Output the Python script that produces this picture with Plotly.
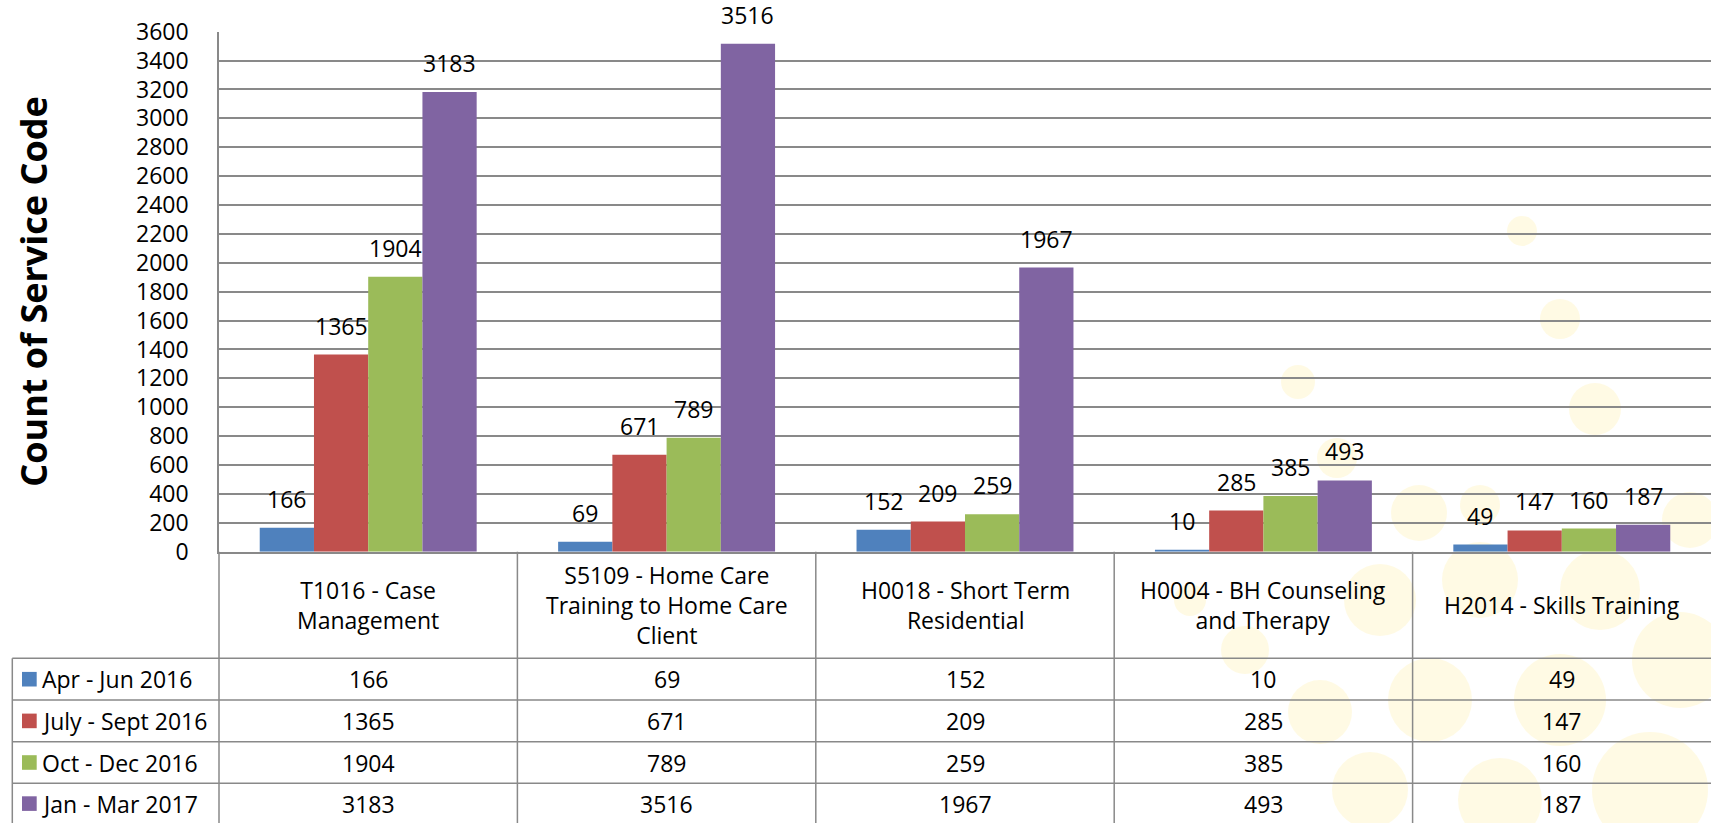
import plotly.graph_objects as go

# ---------------- data ----------------
categories = [
    "T1016 - Case Management",
    "S5109 - Home Care Training to Home Care Client",
    "H0018 - Short Term Residential",
    "H0004 - BH Counseling and Therapy",
    "H2014 - Skills Training",
]
category_labels = [
    "T1016 - Case<br>Management",
    "S5109 - Home Care<br>Training to Home Care<br>Client",
    "H0018 - Short Term<br>Residential",
    "H0004 - BH Counseling<br>and Therapy",
    "H2014 - Skills Training",
]
series_names = ["Apr - Jun 2016", "July - Sept 2016", "Oct - Dec 2016", "Jan - Mar 2017"]
apr_jun_2016 = [166, 69, 152, 10, 49]
jul_sep_2016 = [1365, 671, 209, 285, 147]
oct_dec_2016 = [1904, 789, 259, 385, 160]
jan_mar_2017 = [3183, 3516, 1967, 493, 187]
series_values = [apr_jun_2016, jul_sep_2016, oct_dec_2016, jan_mar_2017]
y_ticks = list(range(0, 3601, 200))
y_title = "Count of Service Code"

# ---------------- style / layout ----------------
colors = ["#4F81BD", "#C0504D", "#9BBB59", "#8064A2"]
W, H = 1711, 823
FONT = "Open Sans"
FS = 23
GRID = "#898989"
PLOT_L, PLOT_T, PLOT_B = 219, 31.7, 551.7
ROW_LINES = [658.3, 700.0, 741.7, 783.3]
ROW_CENTERS = [679.2, 720.9, 762.5, 803.6]
TABLE_L = 12.3
BARGAP = 0.273


def px_x(p):
    return p / W


def px_y(p):
    return 1 - p / H


fig = go.Figure()
for name, vals, col in zip(series_names, series_values, colors):
    fig.add_trace(go.Bar(x=categories, y=vals, name=name, marker=dict(color=col, line=dict(width=0))))

shapes = []
# decorative pale circles (background artwork)
circles = [
    (1522, 231, 15), (1560, 319, 20), (1298, 382, 17), (1595, 409, 26),
    (1337, 458, 20), (1419, 513, 28), (1480, 505, 20), (1190, 600, 16),
    (1245, 650, 24), (1380, 600, 36), (1480, 580, 38), (1600, 590, 40),
    (1320, 712, 32), (1430, 700, 42), (1560, 700, 46), (1680, 660, 48),
    (1370, 790, 38), (1500, 800, 42), (1650, 790, 58), (1690, 520, 28),
]
for cx, cy, r in circles:
    shapes.append(dict(type="circle", xref="paper", yref="paper", layer="below",
                       x0=px_x(cx - r), x1=px_x(cx + r), y0=px_y(cy + r), y1=px_y(cy - r),
                       fillcolor="rgba(255,221,90,0.16)", line=dict(width=0)))

line_style = dict(color=GRID, width=1.5)
# y-axis line continued through the header row / table
shapes.append(dict(type="line", xref="paper", yref="paper", x0=px_x(PLOT_L), x1=px_x(PLOT_L),
                   y0=0, y1=px_y(PLOT_B), line=line_style))
# category boundaries in the data table
for k in range(1, len(categories)):
    shapes.append(dict(type="line", xref="x", yref="paper", x0=k - 0.5, x1=k - 0.5,
                       y0=0, y1=px_y(PLOT_B), line=line_style))
# table row lines
for yy in ROW_LINES:
    shapes.append(dict(type="line", xref="paper", yref="paper", x0=px_x(TABLE_L), x1=1,
                       y0=px_y(yy), y1=px_y(yy), line=line_style))
shapes.append(dict(type="line", xref="paper", yref="paper", x0=px_x(TABLE_L), x1=px_x(TABLE_L),
                   y0=0, y1=px_y(ROW_LINES[0]), line=line_style))
# legend keys
for yc, col in zip(ROW_CENTERS, colors):
    shapes.append(dict(type="rect", xref="paper", yref="paper", x0=px_x(22), x1=px_x(36.7),
                       y0=px_y(yc + 7.3), y1=px_y(yc - 7.3), fillcolor=col, line=dict(width=0)))

annotations = []
# axis title
annotations.append(dict(text="<b>" + y_title + "</b>", xref="paper", yref="paper",
                        x=px_x(34), y=px_y((PLOT_T + PLOT_B) / 2), textangle=-90,
                        showarrow=False, xanchor="center", yanchor="middle",
                        font=dict(family=FONT, size=36, color="#000")))
# header labels
for cat, lab in zip(categories, category_labels):
    annotations.append(dict(text=lab, xref="x", yref="paper", x=cat,
                            y=px_y((PLOT_B + ROW_LINES[0]) / 2), showarrow=False,
                            xanchor="center", yanchor="middle", align="center",
                            font=dict(family=FONT, size=FS, color="#000")))
# row labels + cell values
for name, vals, yc in zip(series_names, series_values, ROW_CENTERS):
    annotations.append(dict(text=name, xref="paper", yref="paper", x=px_x(40), y=px_y(yc),
                            showarrow=False, xanchor="left", yanchor="middle",
                            font=dict(family=FONT, size=FS, color="#000")))
    for cat, v in zip(categories, vals):
        annotations.append(dict(text=str(v), xref="x", yref="paper", x=cat, y=px_y(yc),
                                showarrow=False, xanchor="center", yanchor="middle",
                                font=dict(family=FONT, size=FS, color="#000")))
# data labels above bars
cat_w = (W - PLOT_L) / len(categories)
bar_w = cat_w * (1 - BARGAP) / len(series_names)
for j, vals in enumerate(series_values):
    for cat, v in zip(categories, vals):
        annotations.append(dict(text=str(v), xref="x", yref="y", x=cat, y=v,
                                xshift=(j - 1.5) * bar_w, yshift=11, showarrow=False,
                                xanchor="center", yanchor="bottom",
                                font=dict(family=FONT, size=FS, color="#000")))

fig.update_layout(
    width=W, height=H, autosize=False,
    margin=dict(l=0, r=0, t=0, b=0, pad=0, autoexpand=False),
    paper_bgcolor="white", plot_bgcolor="rgba(0,0,0,0)",
    barmode="group", bargap=BARGAP, bargroupgap=0,
    showlegend=False,
    font=dict(family=FONT, size=FS, color="#000"),
    xaxis=dict(domain=[px_x(PLOT_L), 1], range=[-0.5, 4.5], showticklabels=False,
               showgrid=False, zeroline=False, showline=True, linecolor=GRID, linewidth=1.5,
               ticks="", automargin=False),
    yaxis=dict(domain=[px_y(PLOT_B), px_y(PLOT_T)], range=[0, 3600], tickvals=y_ticks,
               showgrid=True, gridcolor=GRID, gridwidth=1.5, zeroline=False,
               showline=True, linecolor=GRID, linewidth=1.5, ticks="", automargin=False,
               ticklabelstandoff=24, tickfont=dict(family=FONT, size=FS, color="#000")),
    shapes=shapes,
    annotations=annotations,
)

fig.write_html("out.html", config={"displayModeBar": False},
               post_script="document.body.style.margin='0';document.body.style.overflow='hidden';")
